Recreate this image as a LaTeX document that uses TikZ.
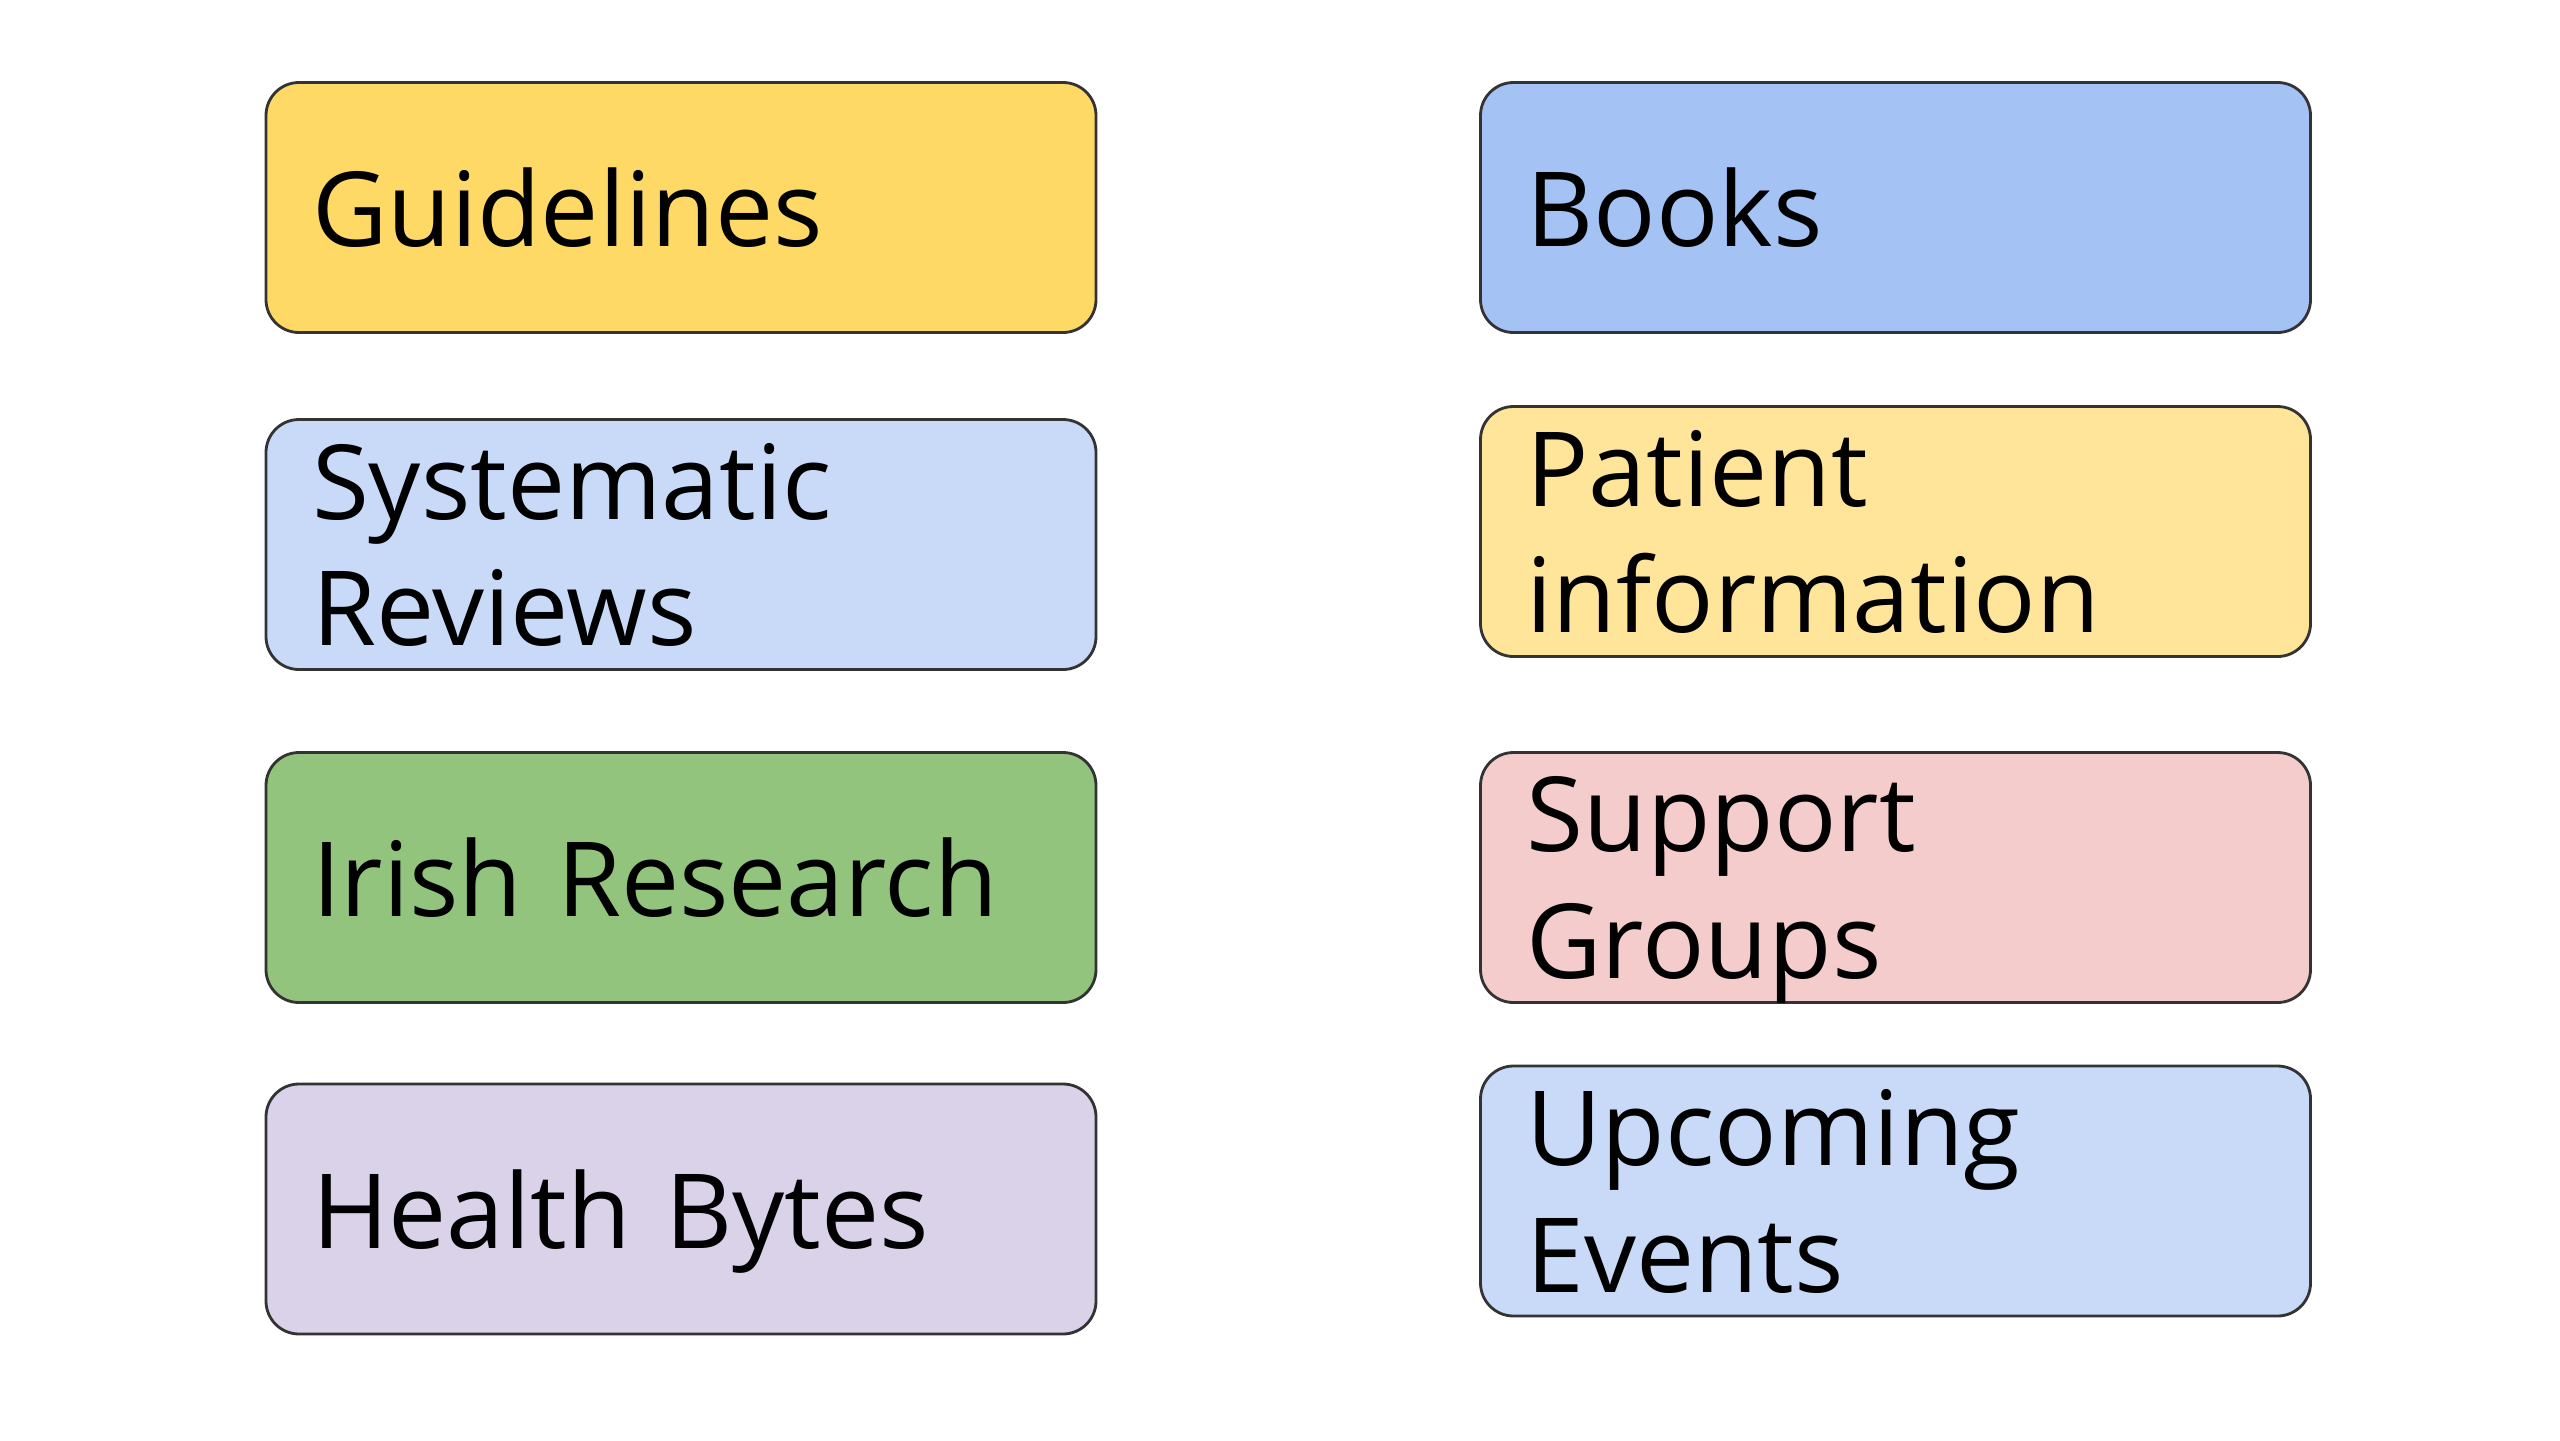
\documentclass[tikz,border=0pt]{standalone}
\usepackage{fontspec}
\setmainfont{Open Sans}
\usepackage{tikz}
\usetikzlibrary{positioning}
\definecolor{TileYellow}{HTML}{FFD966}
\definecolor{TilePaleYellow}{HTML}{FFE599}
\definecolor{TileBlue}{HTML}{A4C2F4}
\definecolor{TilePaleBlue}{HTML}{C9DAF8}
\definecolor{TileGreen}{HTML}{93C47D}
\definecolor{TileRose}{HTML}{F4CCCC}
\definecolor{TileLilac}{HTML}{D9D2E9}
\definecolor{TileEdge}{HTML}{333333}
\tikzset{
  tilebox/.style={
    draw=TileEdge,
    line width=0.8pt,
    rounded corners=0.33cm,
    minimum height=2.5cm,
    text width=7.38cm,
    inner xsep=0.46cm,
    inner ysep=0pt,
    align=left,
    font=\fontsize{29.5}{36}\selectfont
  },
  oneline/.style={tilebox,text depth=0pt},
  twoline/.style={tilebox,text depth=36pt}
}

\begin{document}
\begin{tikzpicture}
    \useasboundingbox (0,0) rectangle (25.6,-14.4);
    % left column
    \node[oneline,fill=TileYellow] (guide) at (6.81,-2.075) {Guidelines};
    \node[twoline,fill=TilePaleBlue] (sysrev) at (6.81,-5.445) {Systematic\\Reviews};
    \node[oneline,fill=TileGreen] (irish) at (6.81,-8.775) {Irish Research};
    \node[oneline,fill=TileLilac] (bytes) at (6.81,-12.09) {Health Bytes};
    % right column
    \node[oneline,fill=TileBlue] (books) at (18.955,-2.075) {Books};
    \node[twoline,fill=TilePaleYellow] (patient) at (18.955,-5.315) {Patient\\information};
    \node[twoline,fill=TileRose] (support) at (18.955,-8.775) {Support\\Groups};
    \node[twoline,fill=TilePaleBlue] (events) at (18.955,-11.91) {Upcoming\\Events};
  \end{tikzpicture}
\end{document}
